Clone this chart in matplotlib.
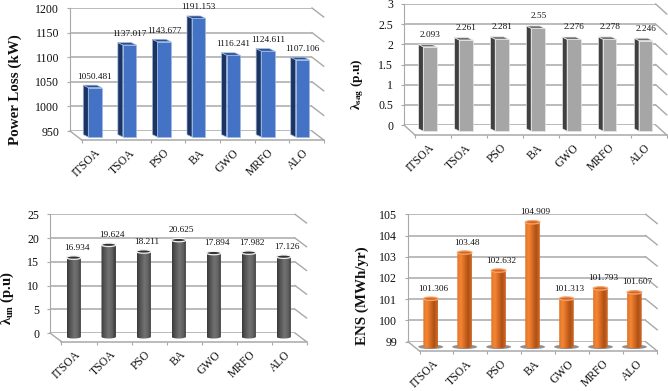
import numpy as np
import matplotlib
matplotlib.use("Agg")
import matplotlib.pyplot as plt
from matplotlib.colors import LinearSegmentedColormap
from matplotlib.patches import Ellipse, Polygon

W, H = 668, 391
plt.rcParams['font.family'] = ['Liberation Serif', 'DejaVu Serif']
plt.rcParams['mathtext.fontset'] = 'custom'
plt.rcParams['mathtext.rm'] = 'Liberation Serif:bold'
plt.rcParams['mathtext.it'] = 'Liberation Serif:bold'
plt.rcParams['mathtext.bf'] = 'Liberation Serif:bold'

categories = ['ITSOA', 'TSOA', 'PSO', 'BA', 'GWO', 'MRFO', 'ALO']
power_loss = [1050.481, 1137.017, 1143.677, 1191.153, 1116.241, 1124.611, 1107.106]
lambda_sag = [2.093, 2.261, 2.281, 2.55, 2.276, 2.278, 2.246]
lambda_un = [16.934, 19.624, 18.211, 20.625, 17.894, 17.982, 17.126]
ens = [101.306, 103.48, 102.632, 104.909, 101.313, 101.793, 101.607]
power_labels = ['1050.481', '1137.017', '1143.677', '1191.153', '1116.241', '1124.611', '1107.106']
sag_labels = ['2.093', '2.261', '2.281', '2.55', '2.276', '2.278', '2.246']
un_labels = ['16.934', '19.624', '18.211', '20.625', '17.894', '17.982', '17.126']
ens_labels = ['101.306', '103.48', '102.632', '104.909', '101.313', '101.793', '101.607']
power_ticks = [950, 1000, 1050, 1100, 1150, 1200]
sag_ticks = [0, 0.5, 1, 1.5, 2, 2.5, 3]
un_ticks = [0, 5, 10, 15, 20, 25]
ens_ticks = [99, 100, 101, 102, 103, 104, 105]
sag_ticklabels = ['0', '0.5', '1', '1.5', '2', '2.5', '3']

GRID = '#a8a8a8'
fig = plt.figure(figsize=(W / 100, H / 100), dpi=100, facecolor='white')


def frame(box, depth, yticks, yticklabels, ylabel, ylabel_xy, ylabel_size):
    left, right, top, bottom = box
    dx, dy = depth
    ax = fig.add_axes([left / W, 1 - bottom / H, (right + dx - left) / W, (bottom - top) / H])
    ax.patch.set_visible(False)
    ux = (right - left) / 7
    uy = (bottom - top) / (yticks[-1] - yticks[0])
    ax.set_xlim(0, 7 + dx / ux)
    ax.set_ylim(yticks[0], yticks[-1])
    for s in ('top', 'right'):
        ax.spines[s].set_visible(False)
    ax.spines['left'].set_bounds(yticks[0], yticks[-1])
    ax.spines['left'].set_color(GRID)
    ax.spines['bottom'].set_color(GRID)
    ax.spines['bottom'].set_linewidth(1.1)
    ax.spines['bottom'].set_position(('outward', dy * 0.72))
    ax.spines['bottom'].set_bounds(dx / ux, 7 + dx / ux)
    # horizontal gridlines on the back wall, wall and floor receding edges
    ax.hlines(yticks, 0, 7, color=GRID, lw=1.1, zorder=1)
    for v in yticks:
        ax.plot([7, 7 + dx / ux], [v, v - dy / uy], color=GRID, lw=1.0, zorder=1, clip_on=False)
    ax.plot([0, dx / ux], [yticks[0], yticks[0] - dy / uy], color=GRID, lw=1.0, zorder=1, clip_on=False)
    ax.set_yticks(yticks, yticklabels)
    ax.tick_params(axis='y', length=2.2, width=0.8, color=GRID, pad=5.5, labelsize=8.6, labelcolor='#111111')
    edges = np.arange(8) + dx / ux
    ax.set_xticks(edges, [''] * 8)
    ax.set_xticks(edges[:-1] + 0.5, categories, minor=True)
    ax.tick_params(axis='x', which='major', length=2.4, width=0.8, color=GRID)
    ax.tick_params(axis='x', which='minor', length=0, pad=8, labelsize=8.4, labelcolor='#111111')
    for t in ax.get_xticklabels(minor=True):
        t.set_rotation(45)
        t.set_ha('right')
        t.set_va('center')
        t.set_rotation_mode('anchor')
    lx, ly = ylabel_xy
    ax.set_ylabel(ylabel, fontweight='bold', fontsize=ylabel_size, color='#111111', va='center', ha='center')
    ax.yaxis.set_label_coords((lx - left) / (right + dx - left), (bottom - ly) / (bottom - top))
    return ax, ux, uy


def labels(ax, values, texts, ux, uy, fx, fy, tx, ty):
    for i, (v, s) in enumerate(zip(values, texts)):
        ax.text(i + 0.5 + (fx + tx) / ux, v - (fy - ty) / uy, s, ha='center', va='center',
                fontsize=6.7, color='#111111', zorder=6, clip_on=False)


def box_bars(ax, values, ux, uy, base, fx, fy, w, side, colors):
    front, dark, cap, edge = colors
    for i, v in enumerate(values):
        c = i + 0.5 + fx / ux
        hw = w / 2 / ux
        sx, sy = side[0] / ux, side[1] / uy
        y0, y1 = base - fy / uy, v - fy / uy
        ax.add_patch(Polygon([(c - hw, y0), (c - hw, y1), (c - hw - sx, y1 + sy), (c - hw - sx, y0 + sy)],
                             fc=dark, ec=edge, lw=0.5, zorder=3, clip_on=False))
        ax.add_patch(Polygon([(c - hw, y1), (c + hw, y1), (c + hw - sx, y1 + sy), (c - hw - sx, y1 + sy)],
                             fc=cap, ec=edge, lw=0.5, zorder=3, clip_on=False))
        ax.bar(c, y1 - y0, width=2 * hw, bottom=y0, color=front, edgecolor=edge, lw=0.5, zorder=4, clip_on=False)


def cylinders(ax, values, ux, uy, base, fx, fy, w, cmap, cap, edge, shadow=None):
    xlim, ylim = ax.get_xlim(), ax.get_ylim()
    grad = np.linspace(0, 1, 64)[None, :]
    eh = 3.4 / uy
    lift = 1.2 / uy
    for i, v in enumerate(values):
        c = i + 0.5 + fx / ux
        hw = w / 2 / ux
        y0, y1 = base - fy / uy + lift, v - fy / uy
        if shadow:
            ax.add_patch(Ellipse((c, y0 - 0.1 * eh), 25 / ux, 4.4 / uy, fc=shadow, ec='none', zorder=2, clip_on=False))
        im = ax.imshow(grad, cmap=cmap, aspect='auto', extent=[c - hw, c + hw, y0 - eh, y1], zorder=4)
        t = np.linspace(0, np.pi, 30)
        pts = [(c - hw, y1)] + list(zip(c - hw * np.cos(t), y0 - eh / 2 * np.sin(t))) + [(c + hw, y1)]
        clip = Polygon(pts, transform=ax.transData)
        im.set_clip_box(fig.bbox)
        im.set_clip_path(clip)
        ax.add_patch(Ellipse((c, y1), 2 * hw, eh, fc=cap, ec=edge, lw=0.9, zorder=5, clip_on=False))
    ax.set_xlim(xlim)
    ax.set_ylim(ylim)


blue = ('#4472c4', '#1c3461', '#2b4f8f', '#9db8e2')
grey = ('#a6a6a6', '#404040', '#6f6f6f', '#e8e8e8')
gray_map = LinearSegmentedColormap.from_list('g', ['#3a3a3a', '#585858', '#727272', '#626262', '#303030'])
orange_map = LinearSegmentedColormap.from_list('o', ['#e0752a', '#f58634', '#d56a24', '#ad5015', '#d46c28'])

# Power loss
ax, ux, uy = frame((70, 312, 8, 131), (11.7, 9), power_ticks, [str(t) for t in power_ticks],
                   'Power Loss (kW)', (15, 90), 10.8)
box_bars(ax, power_loss, ux, uy, power_ticks[0], 7.7, 6, 13.4, (5, 2.4), blue)
labels(ax, power_loss, power_labels, ux, uy, 7.7, 6, 0, 11)

# Sag
ax, ux, uy = frame((404, 655.7, 4, 125), (11, 10), sag_ticks, sag_ticklabels,
                   r'$\lambda_{sag}$ (p.u)', (358, 84), 9.6)
box_bars(ax, lambda_sag, ux, uy, sag_ticks[0], 8, 6.2, 13.4, (4.7, 2.4), grey)
labels(ax, lambda_sag, sag_labels, ux, uy, 8, 6.2, 0.5, 12)

# Unbalance
ax, ux, uy = frame((50, 295, 214.3, 333), (11.5, 8.7), un_ticks, [str(t) for t in un_ticks],
                   r'$\lambda_{un}$ (p.u)', (7.5, 298), 10.6)
cylinders(ax, lambda_un, ux, uy, un_ticks[0], 6.2, 5, 14.4, gray_map, '#333333', '#f2f2f2')
labels(ax, lambda_un, un_labels, ux, uy, 6.2, 5, 3, 10)

# ENS
ax, ux, uy = frame((408, 645.7, 214.3, 341.7), (11.5, 9.3), ens_ticks, [str(t) for t in ens_ticks],
                   'ENS (MWh/yr)', (362, 296), 10.8)
cylinders(ax, ens, ux, uy, ens_ticks[0], 5.7, 6, 14.6, orange_map, '#d9661f', '#f4a76f', shadow='#8f8f8f')
labels(ax, ens, ens_labels, ux, uy, 5.7, 6, 2.7, 10)

fig.savefig('out.png', dpi=100)
